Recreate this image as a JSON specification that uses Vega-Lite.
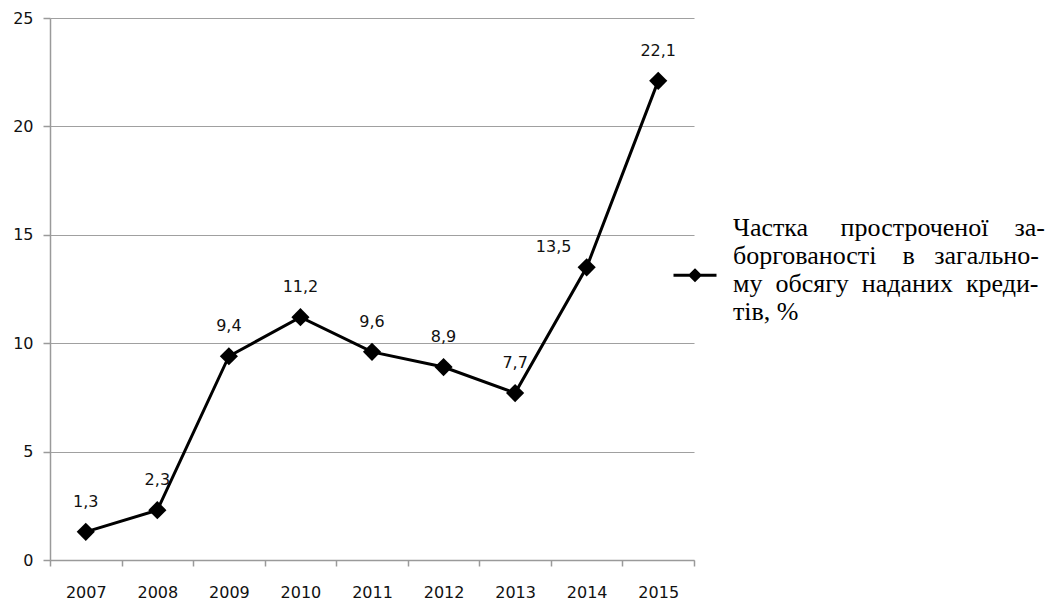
{
  "$schema": "https://vega.github.io/schema/vega-lite/v6.json",
  "width": 644,
  "height": 542,
  "autosize": {"type": "none"},
  "padding": {"left": 50, "top": 18, "right": 354, "bottom": 41},
  "background": "white",
  "config": {
    "view": {"stroke": null},
    "locale": {"number": {"decimal": ",", "thousands": " ", "grouping": [3], "currency": ["", ""]}}
  },
  "data": {
    "values": [
      {"year": "2007", "value": 1.3, "series": "s"},
      {"year": "2008", "value": 2.3, "series": "s"},
      {"year": "2009", "value": 9.4, "series": "s"},
      {"year": "2010", "value": 11.2, "series": "s"},
      {"year": "2011", "value": 9.6, "series": "s"},
      {"year": "2012", "value": 8.9, "series": "s"},
      {"year": "2013", "value": 7.7, "series": "s"},
      {"year": "2014", "value": 13.5, "series": "s"},
      {"year": "2015", "value": 22.1, "series": "s"}
    ]
  },
  "encoding": {
    "x": {
      "field": "year",
      "type": "ordinal",
      "scale": {"type": "band", "paddingInner": 0, "paddingOuter": 0},
      "axis": {
        "title": null,
        "labelAngle": 0,
        "tickBand": "extent",
        "domainColor": "#9a9a9a",
        "domainWidth": 1.5,
        "tickColor": "#9a9a9a",
        "tickWidth": 1.5,
        "tickSize": 6,
        "labelPadding": 18,
        "labelFont": "DejaVu Sans",
        "labelFontSize": 16,
        "labelColor": "#111111",
        "grid": false
      }
    },
    "y": {
      "field": "value",
      "type": "quantitative",
      "scale": {"domain": [0, 25], "nice": false},
      "axis": {
        "title": null,
        "values": [0, 5, 10, 15, 20, 25],
        "domainColor": "#9a9a9a",
        "domainWidth": 1.5,
        "tickColor": "#9a9a9a",
        "tickWidth": 1.5,
        "gridColor": "#a0a0a0",
        "gridWidth": 1.2,
        "gridOpacity": 1,
        "tickSize": 7,
        "labelPadding": 10,
        "labelFont": "DejaVu Sans",
        "labelFontSize": 16,
        "labelColor": "#111111"
      }
    }
  },
  "layer": [
    {
      "mark": {"type": "line", "strokeWidth": 3},
      "encoding": {
        "color": {
          "field": "series",
          "type": "nominal",
          "scale": {"range": ["black"]},
          "legend": {
            "orient": "none",
            "legendX": 622,
            "legendY": 187,
            "title": null,
            "symbolType": "M-1,2.2H1M0,1.97L0.23,2.2L0,2.43L-0.23,2.2Z",
            "symbolSize": 1849,
            "symbolStrokeWidth": 3,
            "symbolFillColor": "black",
            "symbolStrokeColor": "black",
            "labelExpr": "['Частка\u00a0\u00a0\u00a0\u00a0\u00a0простроченої\u00a0\u00a0\u00a0\u00a0за-', 'боргованості\u00a0\u00a0\u00a0\u00a0в\u00a0\u00a0\u00a0загально-', 'му\u00a0\u00a0обсягу\u00a0\u00a0наданих\u00a0\u00a0креди-', 'тів, %']",
            "labelFont": "Liberation Serif",
            "labelFontSize": 26,
            "labelLineHeight": 24.5,
            "labelLimit": 500,
            "labelColor": "black",
            "labelOffset": 15
          }
        }
      }
    },
    {
      "mark": {"type": "point", "shape": "diamond", "filled": true, "size": 330, "color": "black", "opacity": 1}
    },
    {
      "transform": [{"filter": "datum.year != '2014'"}],
      "mark": {"type": "text", "dy": -30, "font": "DejaVu Sans", "fontSize": 16, "color": "#111111"},
      "encoding": {"text": {"field": "value", "type": "quantitative", "format": ".1f"}}
    },
    {
      "transform": [{"filter": "datum.year == '2014'"}],
      "mark": {"type": "text", "dx": -33, "dy": -20, "font": "DejaVu Sans", "fontSize": 16, "color": "#111111"},
      "encoding": {"text": {"field": "value", "type": "quantitative", "format": ".1f"}}
    }
  ]
}
